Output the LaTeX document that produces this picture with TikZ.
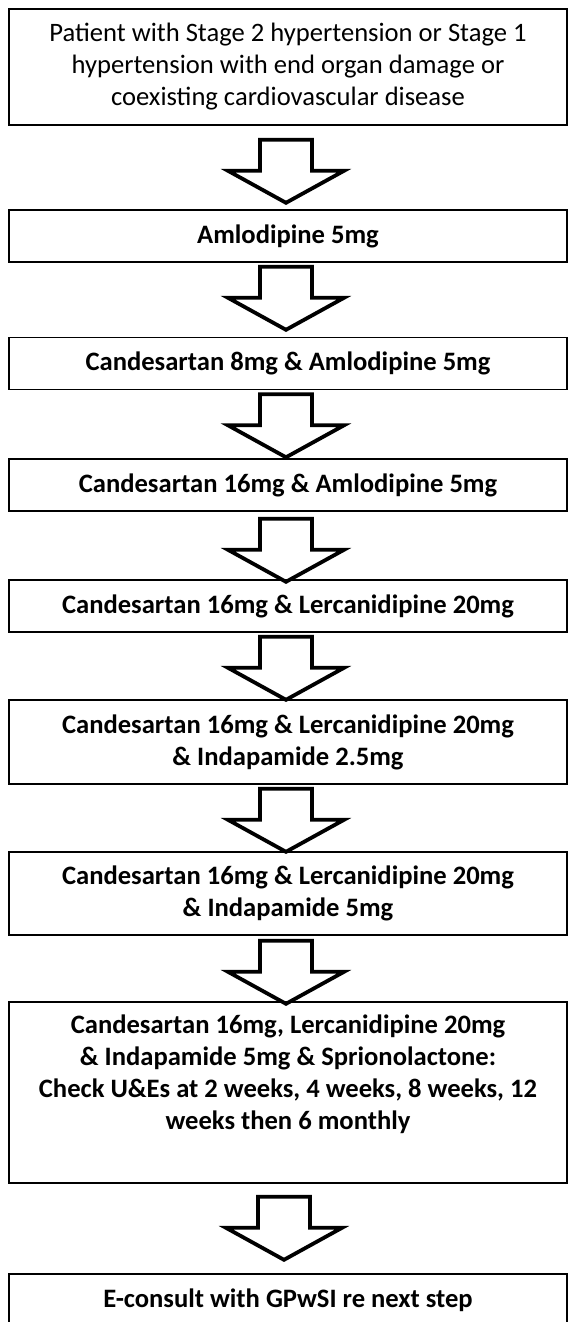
\documentclass[tikz,border=0pt]{standalone}
\usepackage{fontspec}
\setmainfont{Carlito}
\tikzset{
  stepbox/.style={draw, line width=1.6pt, minimum width=558pt, minimum height=52pt,
    inner sep=0pt, align=center, font=\fontsize{26.6}{32}\selectfont\bfseries},
  blockarrow/.pic={
    \draw[line width=3.8pt] (-26,0) -- (26,0) -- (26,31) -- (58,31) -- (0,63)
      -- (-58,31) -- (-26,31) -- cycle;
  }
}
\begin{document}
\begin{tikzpicture}[x=1pt, y=-1pt]
      \useasboundingbox (0,0) rectangle (569,1322);
      \draw
        (288,67) node[stepbox, minimum height=116pt, font=\fontsize{26.6}{32}\selectfont] (patient)
          {Patient with Stage 2 hypertension or Stage 1\\hypertension with end organ damage or\\coexisting cardiovascular disease}
        (288,236) node[stepbox] (amlo){Amlodipine 5mg}
        (288,363.5) node[stepbox] (cand8){Candesartan 8mg \& Amlodipine 5mg}
        (288,485) node[stepbox] (cand16){Candesartan 16mg \& Amlodipine 5mg}
        (288,606) node[stepbox] (lerc){Candesartan 16mg \& Lercanidipine 20mg}
        (288,742) node[stepbox, minimum height=84pt] (indaA)
          {Candesartan 16mg \& Lercanidipine 20mg\\\& Indapamide 2.5mg}
        (288,893.5) node[stepbox, minimum height=83pt] (indaB)
          {Candesartan 16mg \& Lercanidipine 20mg\\\& Indapamide 5mg}
        (288,1092.5) node[stepbox, minimum height=181pt] (spiro)
          {Candesartan 16mg, Lercanidipine 20mg\\\& Indapamide 5mg \& Sprionolactone:\\Check U\&Es at 2 weeks, 4 weeks, 8 weeks, 12\\weeks then 6 monthly\\\strut}
        (288,1300) node[stepbox] (econsult){E-consult with GPwSI re next step};
      \begin{scope}
        \path (patient.south) ++(-2,14) pic {blockarrow};
        \path (amlo.south) ++(-2,4) pic {blockarrow};
        \path (cand8.south) ++(-2,4) pic {blockarrow};
        \path (cand16.south) ++(-2,7) pic {blockarrow};
        \path (lerc.south) ++(-2,4) pic {blockarrow};
        \path (indaA.south) ++(-2,4) pic {blockarrow};
        \path (indaB.south) ++(-2,5) pic {blockarrow};
        \path (spiro.south) ++(-4,13) pic {blockarrow};
      \end{scope}
    \end{tikzpicture}
\end{document}
